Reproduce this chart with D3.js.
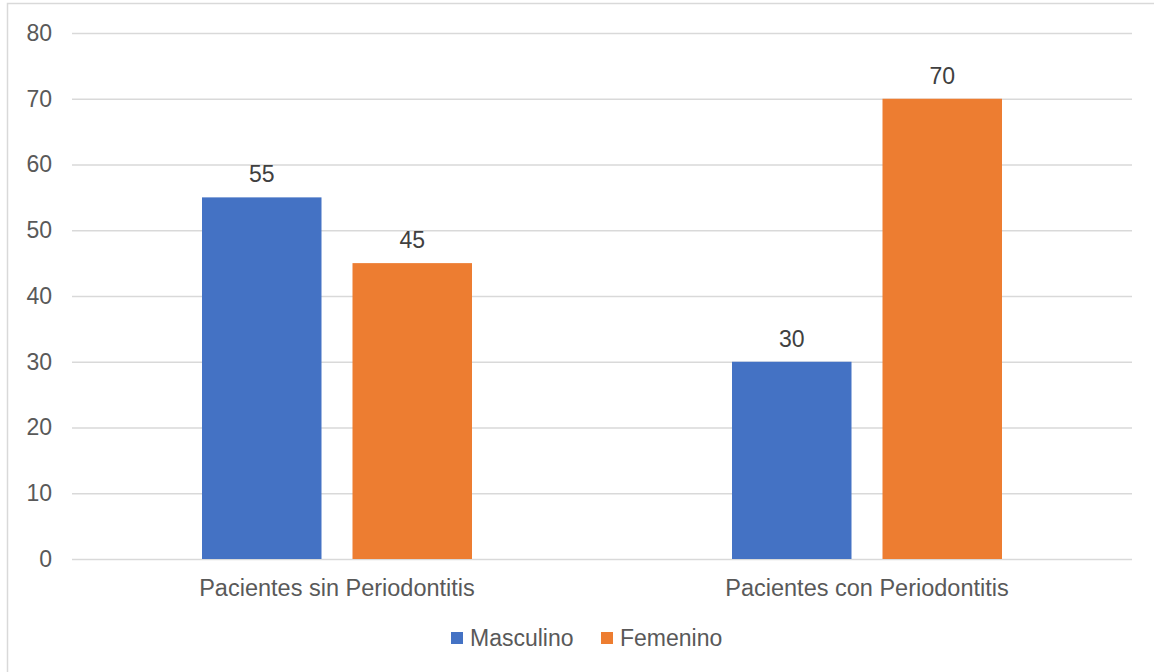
<!DOCTYPE html>
<html>
<head>
<meta charset="utf-8">
<script src="https://cdn.jsdelivr.net/npm/d3@7"></script>
<style>
  html, body { margin: 0; padding: 0; background: #fff; }
  svg { display: block; font-family: "Liberation Sans", Arial, sans-serif; }
</style>
</head>
<body>
<svg id="chart" width="1154" height="672"></svg>
<script>
// Patients by periodontitis status and sex
const categories = ["Pacientes sin Periodontitis", "Pacientes con Periodontitis"];
const seriesNames = ["Masculino", "Femenino"];
const masculino = [55, 30];
const femenino = [45, 70];
const yTicks = [0, 10, 20, 30, 40, 50, 60, 70, 80];
const colors = ["#4472C4", "#ED7D31"];

const svg = d3.select("#chart");
const W = 1154, H = 672;
const margin = { left: 72, right: 22, top: 33, bottom: 113 };
const plotW = W - margin.left - margin.right;
const plotH = H - margin.top - margin.bottom;

// chart border
svg.append("rect")
  .attr("x", 7.5).attr("y", 3.5)
  .attr("width", W + 10).attr("height", H + 10)
  .attr("fill", "none").attr("stroke", "#d9d9d9").attr("stroke-width", 1.5);

const g = svg.append("g").attr("transform", `translate(${margin.left},${margin.top})`);

const x0 = d3.scaleBand().domain(categories).range([0, plotW]).paddingInner(0).paddingOuter(0);
const groupPad = 130;
const x1 = d3.scaleBand().domain(seriesNames)
  .range([groupPad, x0.bandwidth() - groupPad])
  .paddingInner(0.206).paddingOuter(0);
const y = d3.scaleLinear().domain([0, 80]).range([plotH, 0]);

// gridlines and tick labels
const yAxis = d3.axisLeft(y).tickValues(yTicks).tickSize(-plotW).tickPadding(20).tickFormat(d3.format("d"));
const ya = g.append("g").call(yAxis);
ya.select(".domain").remove();
ya.selectAll(".tick line").attr("stroke", "#d9d9d9").attr("stroke-width", 1.5);
ya.selectAll(".tick text")
  .attr("fill", "#595959").attr("font-size", 23)
  .attr("font-family", "Liberation Sans, Arial, sans-serif");

const rows = categories.map((c, i) => ({ cat: c, values: [masculino[i], femenino[i]] }));

const groups = g.selectAll(".grp").data(rows).join("g")
  .attr("transform", d => `translate(${x0(d.cat)},0)`);

groups.selectAll("rect").data(d => d.values.map((v, j) => ({ name: seriesNames[j], v, j })))
  .join("rect")
  .attr("x", d => x1(d.name))
  .attr("width", x1.bandwidth())
  .attr("y", d => y(d.v))
  .attr("height", d => y(0) - y(d.v))
  .attr("fill", d => colors[d.j]);

groups.selectAll("text.val").data(d => d.values.map((v, j) => ({ name: seriesNames[j], v, j })))
  .join("text").attr("class", "val")
  .attr("x", d => x1(d.name) + x1.bandwidth() / 2)
  .attr("y", d => y(d.v) - 15)
  .attr("text-anchor", "middle")
  .attr("fill", "#404040").attr("font-size", 23)
  .text(d => d.v);

// category labels
g.selectAll("text.cat").data(categories).join("text").attr("class", "cat")
  .attr("x", d => x0(d) + x0.bandwidth() / 2)
  .attr("y", plotH + 37)
  .attr("text-anchor", "middle")
  .attr("fill", "#595959").attr("font-size", 23.5)
  .text(d => d);

// legend
const legend = svg.append("g").attr("transform", "translate(451,632)");
const legX = [0, 150];
seriesNames.forEach((n, i) => {
  const lg = legend.append("g").attr("transform", `translate(${legX[i]},0)`);
  lg.append("rect").attr("width", 12).attr("height", 12).attr("fill", colors[i]);
  lg.append("text").attr("x", 19).attr("y", 14)
    .attr("fill", "#595959").attr("font-size", 23).text(n);
});
</script>
</body>
</html>
